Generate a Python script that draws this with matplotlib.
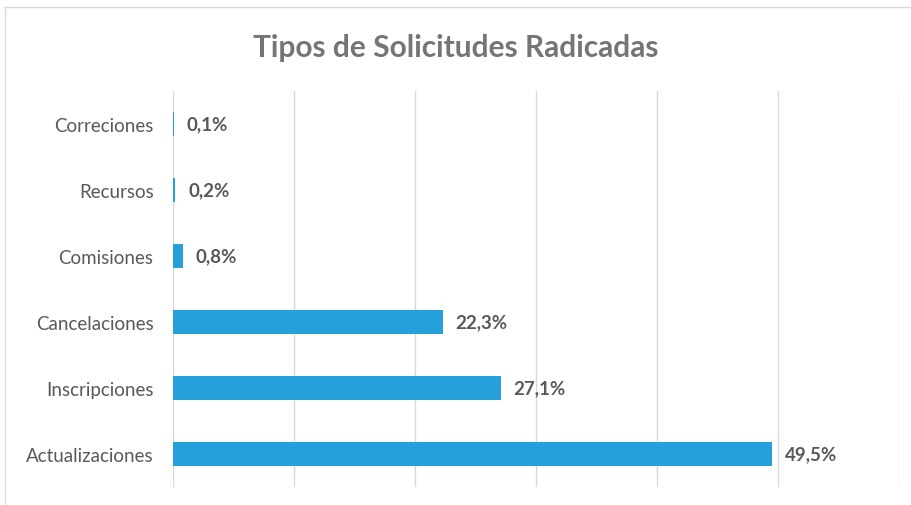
import matplotlib
matplotlib.use("Agg")
import matplotlib.pyplot as plt
from matplotlib.lines import Line2D

categories = ["Actualizaciones", "Inscripciones", "Cancelaciones", "Comisiones", "Recursos", "Correciones"]
values = [49.5, 27.1, 22.3, 0.8, 0.2, 0.1]
labels = ["49,5%", "27,1%", "22,3%", "0,8%", "0,2%", "0,1%"]

plt.rcParams['font.family'] = ['Lato', 'DejaVu Sans']

fig = plt.figure(figsize=(9.12, 5.06), dpi=100)
ax = fig.add_axes([173/912, 1-488/506, (899-173)/912, (488-92)/506])

y = range(len(categories))
ax.barh(y, values, height=0.35, color="#26A0DA", zorder=3)
for yi, v, lab in zip(y, values, labels):
    ax.text(v + 1.05, yi, lab, va="center", ha="left", fontsize=13.5,
            fontweight="bold", color="#595959")

ax.set_xlim(0, 60)
ax.set_ylim(-0.5, len(categories) - 0.5)
ax.set_xticks(range(0, 61, 10))
ax.set_xticklabels([])
ax.tick_params(axis="x", length=0)
ax.tick_params(axis="y", length=0, pad=14, labelsize=13.5, labelcolor="#595959")
ax.set_yticks(list(y))
ax.set_yticklabels(categories)
ax.grid(axis="x", color="#D9D9D9", linewidth=1, zorder=0)
for s in ax.spines.values():
    s.set_visible(False)

fig.text(0.5, 1-48/506, "Tipos de Solicitudes Radicadas", ha="center", va="center",
         fontsize=21.5, fontweight="bold", color="#757575")

fig.add_artist(Line2D([5/912, 5/912], [0, 1-8/506], transform=fig.transFigure, color="#D9D9D9", linewidth=1))
fig.add_artist(Line2D([5/912, 1], [1-8/506, 1-8/506], transform=fig.transFigure, color="#D9D9D9", linewidth=1))

fig.savefig("out.png", dpi=100)
